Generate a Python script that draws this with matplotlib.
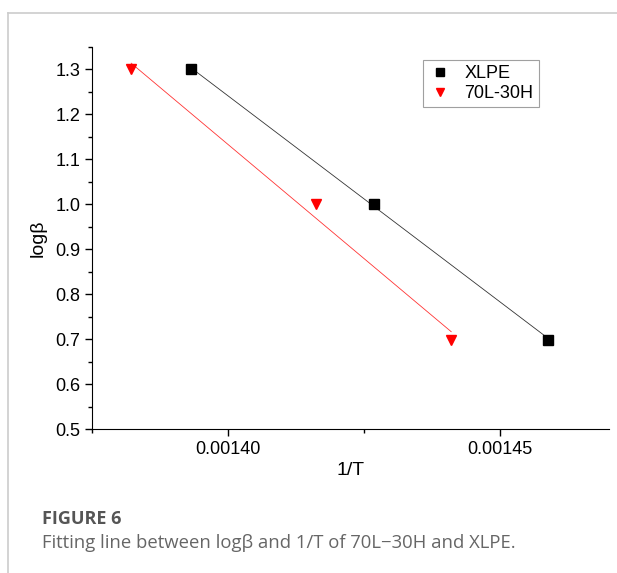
import matplotlib.pyplot as plt
import numpy as np
from matplotlib.lines import Line2D
from matplotlib.ticker import MultipleLocator

plt.rcParams["font.family"] = ["Liberation Sans", "DejaVu Sans"]

# 1/T values, logβ for heating rates 20, 10, 5 K/min
inv_t_xlpe = [0.0013932, 0.0014269, 0.0014588]
inv_t_blend = [0.0013822, 0.0014161, 0.0014410]
log_beta = [1.301, 1.0, 0.699]
labels = ["XLPE", "70L-30H"]


def main():
    fig = plt.figure(figsize=(6.17, 5.73), dpi=100)

    # page frame lines (top and left)
    fig.add_artist(Line2D([8 / 617, 1], [1 - 13 / 573] * 2, color="#cccccc", lw=1.2))
    fig.add_artist(Line2D([8 / 617] * 2, [0, 1 - 13 / 573], color="#cccccc", lw=1.2))

    ax = fig.add_axes([92 / 617, 1 - 429 / 573, (609 - 92) / 617, (429 - 47) / 573])

    for xs, color, marker, label in [
        (inv_t_xlpe, "black", "s", labels[0]),
        (inv_t_blend, "red", "v", labels[1]),
    ]:
        xs = np.array(xs)
        k, b = np.polyfit(xs, log_beta, 1)
        ax.plot(xs[[0, -1]], k * xs[[0, -1]] + b, color=color, lw=0.6, alpha=0.8)
        ax.plot(xs, log_beta, ls="none", marker=marker, color=color, ms=6.5, label=label)

    ax.set_xlim(0.001375, 0.00147)
    ax.set_ylim(0.5, 1.35)
    ax.xaxis.set_major_locator(MultipleLocator(0.00005))
    ax.xaxis.set_minor_locator(MultipleLocator(0.000025))
    ax.yaxis.set_major_locator(MultipleLocator(0.1))
    ax.yaxis.set_minor_locator(MultipleLocator(0.05))
    ax.xaxis.set_major_formatter(plt.FuncFormatter(lambda v, p: f"{v:.5f}"))
    ax.yaxis.set_major_formatter(plt.FuncFormatter(lambda v, p: f"{v:.1f}"))
    ax.tick_params(which="major", direction="out", length=5, width=1, labelsize=13)
    ax.tick_params(which="minor", direction="out", length=3, width=1)
    for side in ["top", "right"]:
        ax.spines[side].set_visible(False)
    ax.set_xlabel("1/T", fontsize=14, labelpad=3)
    ax.set_ylabel("logβ", fontsize=14, labelpad=6)

    leg = ax.legend(loc="upper right", bbox_to_anchor=(0.882, 0.99), fontsize=13,
                    frameon=True, fancybox=False, edgecolor="#888888",
                    handletextpad=0.7, borderpad=0.3, labelspacing=0.15,
                    handlelength=1.3, markerscale=0.85)
    leg.get_frame().set_linewidth(0.8)

    fig.text(42 / 617, 1 - 519 / 573, "FIGURE 6", fontsize=13, fontweight="bold",
             color="#555555", family="Open Sans", va="center")
    fig.text(42 / 617, 1 - 543 / 573, "Fitting line between logβ and 1/T of 70L\u221230H and XLPE.",
             fontsize=13.3, color="#666666", family="Open Sans", va="center")

    fig.savefig("out.png", dpi=100)
    plt.close(fig)


if __name__ == "__main__":
    main()
